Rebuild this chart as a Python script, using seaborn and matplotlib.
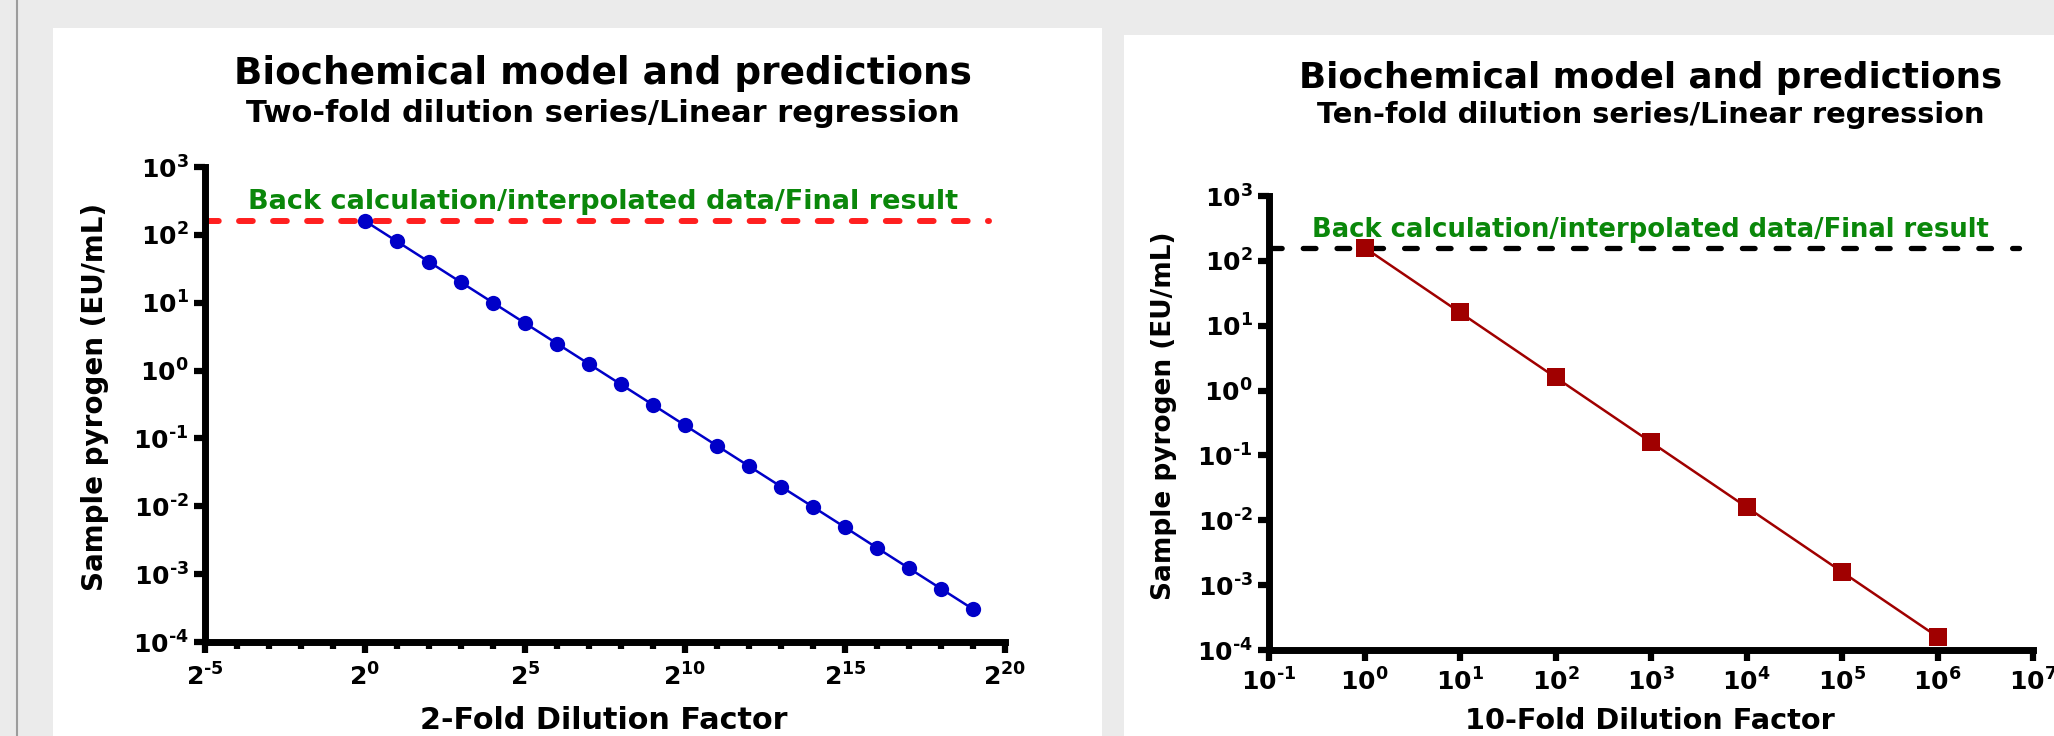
import numpy as np
import pandas as pd
import seaborn as sns
import matplotlib
matplotlib.use('Agg')
import matplotlib.pyplot as plt
from matplotlib.patches import Rectangle
from matplotlib.lines import Line2D
from matplotlib.ticker import FuncFormatter, NullFormatter, NullLocator

# Data
two_fold_factor = [1, 2, 4, 8, 16, 32, 64, 128, 256, 512, 1024, 2048, 4096,
                   8192, 16384, 32768, 65536, 131072, 262144, 524288]
two_fold_pyrogen = [160, 80, 40, 20, 10, 5, 2.5, 1.25, 0.625, 0.3125, 0.156,
                    0.078, 0.039, 0.0195, 0.0098, 0.0049, 0.00244, 0.00122,
                    0.00061, 0.000305]
ten_fold_factor = [1, 10, 100, 1000, 10000, 100000, 1000000]
ten_fold_pyrogen = [160, 16, 1.6, 0.16, 0.016, 0.0016, 0.00016]
final_result = 160
back_calc_label = 'Back calculation/interpolated data/Final result'

sns.set_theme(style='ticks')
plt.rcParams['font.family'] = ['DejaVu Sans']
plt.rcParams['font.weight'] = 'bold'
plt.rcParams['mathtext.default'] = 'bf'


def power_label(base, exp):
    # hyphen instead of the wide math minus
    sign = '\u2010' if exp < 0 else ''
    return r'$\mathbf{%s}^{\mathbf{%s%d}}$' % (base, sign, abs(exp))


W, H = 2054, 736
fig = plt.figure(figsize=(W / 100, H / 100), dpi=100, facecolor='#ebebeb')

# page furniture: grey rule and white panels
fig.add_artist(Line2D([17 / W, 17 / W], [0, 1], color='#9c9c9c', lw=1.5))
fig.add_artist(Rectangle((53 / W, 0), (1102 - 53) / W, (H - 28) / H,
                         transform=fig.transFigure, facecolor='white',
                         edgecolor='none', zorder=-1))
fig.add_artist(Rectangle((1124 / W, 0), (W - 1124) / W, (H - 35) / H,
                         transform=fig.transFigure, facecolor='white',
                         edgecolor='none', zorder=-1))

ax1 = fig.add_axes([205 / W, (H - 642) / H, 800 / W, 475 / H])
ax2 = fig.add_axes([1269 / W, (H - 650) / H, 764 / W, 454 / H])


def style_axis(ax):
    ax.set_facecolor('none')
    sns.despine(ax=ax)
    for s in ['left', 'bottom']:
        ax.spines[s].set_linewidth(5)
        ax.spines[s].set_color('black')
    ax.set_yscale('log')
    ax.set_ylim(1e-4, 1e3)
    ax.set_yticks([10.0 ** e for e in range(-4, 4)])
    ax.yaxis.set_minor_locator(NullLocator())
    ax.yaxis.set_major_formatter(FuncFormatter(
        lambda v, p: power_label('10', round(np.log10(v)))))
    ax.tick_params(axis='both', which='major', length=8, width=4.5,
                   color='black', labelsize=18, labelcolor='black')
    ax.tick_params(axis='y', pad=3.8)


# Left: two-fold series
style_axis(ax1)
ax1.set_xscale('log', base=2)
ax1.set_xlim(2.0 ** -5, 2.0 ** 20)
ax1.set_xticks([2.0 ** e for e in range(-5, 21, 5)])
ax1.set_xticks([2.0 ** e for e in range(-5, 21) if e % 5], minor=True)
ax1.xaxis.set_major_formatter(FuncFormatter(
    lambda v, p: power_label('2', round(np.log2(v)))))
ax1.xaxis.set_minor_formatter(NullFormatter())
ax1.tick_params(axis='x', which='major', pad=7.5)
ax1.tick_params(axis='x', which='minor', length=5, width=4.5, color='black')

ax1.plot([2.0 ** -5, 2.0 ** 19.5], [final_result, final_result],
         ls=(0, (2.3, 3.4)), dash_capstyle='round', lw=4.3, color='#ff1f1f',
         zorder=2)
sns.lineplot(x=two_fold_factor, y=two_fold_pyrogen, ax=ax1, color='#0000c8',
             lw=1.8, marker='o', markersize=11, markeredgewidth=0,
             sort=False, clip_on=False, zorder=3)
ax1.text(0.4975, 0.927, back_calc_label, transform=ax1.transAxes,
         ha='center', va='center', fontsize=19.5, fontweight='bold',
         color='#0a870a')
ax1.set_ylabel('Sample pyrogen (EU/mL)', fontsize=20, fontweight='bold',
               va='center', color='black')
ax1.yaxis.set_label_coords(-0.138, 0.516)
ax1.set_xlabel('2-Fold Dilution Factor', fontsize=21.8, fontweight='bold',
               va='center', color='black')
ax1.xaxis.set_label_coords(0.4985, -0.165)

# Right: ten-fold series
style_axis(ax2)
ax2.set_xscale('log')
ax2.set_xlim(1e-1, 1e7)
ax2.set_xticks([10.0 ** e for e in range(-1, 8)])
ax2.xaxis.set_minor_locator(NullLocator())
ax2.xaxis.set_major_formatter(FuncFormatter(
    lambda v, p: power_label('10', round(np.log10(v)))))
ax2.tick_params(axis='x', which='major', pad=5.5)

ax2.plot([1e-1, 10 ** 6.85], [final_result, final_result],
         ls=(0, (2.4, 4.0)), dash_capstyle='round', lw=3.8, color='black',
         zorder=2)
sns.lineplot(x=ten_fold_factor, y=ten_fold_pyrogen, ax=ax2, color='#a00000',
             lw=1.8, marker='s', markersize=13, markeredgewidth=0,
             sort=False, clip_on=False, zorder=3)
ax2.text(0.4987, 0.925, back_calc_label, transform=ax2.transAxes,
         ha='center', va='center', fontsize=18.6, fontweight='bold',
         color='#0a870a')
ax2.set_ylabel('Sample pyrogen (EU/mL)', fontsize=19, fontweight='bold',
               va='center', color='black')
ax2.yaxis.set_label_coords(-0.137, 0.515)
ax2.set_xlabel('10-Fold Dilution Factor', fontsize=20.7, fontweight='bold',
               va='center', color='black')
ax2.xaxis.set_label_coords(0.4987, -0.157)

# Titles
fig.text(0.2936, 0.9008, 'Biochemical model and predictions', ha='center',
         va='center', fontsize=26.9, fontweight='bold', color='black')
fig.text(0.2936, 0.8459, 'Two-fold dilution series/Linear regression',
         ha='center', va='center', fontsize=22, fontweight='bold',
         color='black')
fig.text(0.8038, 0.8947, 'Biochemical model and predictions', ha='center',
         va='center', fontsize=25.7, fontweight='bold', color='black')
fig.text(0.8038, 0.8432, 'Ten-fold dilution series/Linear regression',
         ha='center', va='center', fontsize=20.8, fontweight='bold',
         color='black')

fig.savefig('out.png', dpi=100, facecolor=fig.get_facecolor())
